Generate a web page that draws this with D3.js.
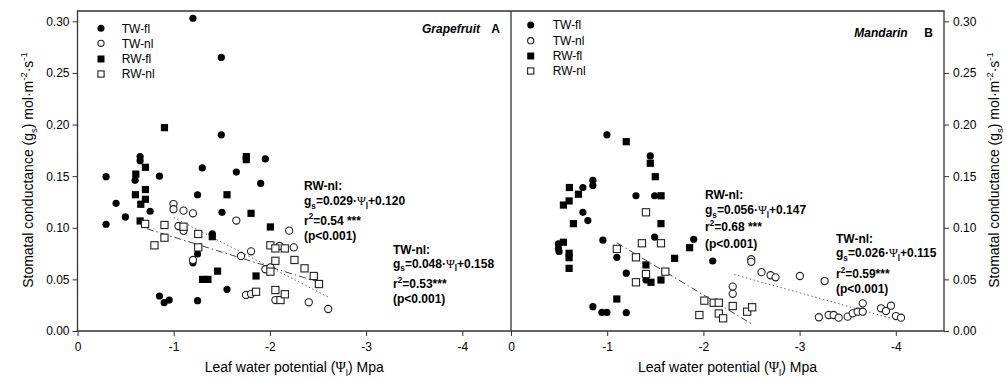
<!DOCTYPE html>
<html><head><meta charset="utf-8">
<script src="https://cdn.jsdelivr.net/npm/d3@7"></script>
<style>
body{margin:0;background:#fff}
text{font-family:Arial,"Liberation Sans",sans-serif;fill:#000}
</style>
</head><body>
<svg id="c" width="1007" height="379"></svg>
<script>
// ---------------- data ----------------
const xTicks = [0, -1, -2, -3, -4];
const yTicks = [0, 0.05, 0.10, 0.15, 0.20, 0.25, 0.30];
const seriesNames = ["TW-fl", "TW-nl", "RW-fl", "RW-nl"];

// Grapefruit (panel A): [leaf water potential, stomatal conductance]
const grapeTWfl = [[-1.20,0.303],[-1.495,0.265],[-1.495,0.190],[-0.651,0.169],[-0.651,0.165],[-0.297,0.1495],[-0.599,0.146],[-0.852,0.150],[-1.297,0.158],[-1.651,0.154],[-1.953,0.1667],[-1.904,0.143],[-1.248,0.132],[-0.297,0.1034],[-0.401,0.1237],[-0.498,0.1105],[-0.755,0.116],[-0.852,0.0339],[-0.901,0.0274],[-0.953,0.030],[-1.248,0.0746],[-1.2,0.066],[-1.248,0.0294],[-1.401,0.094],[-1.502,0.115],[-1.554,0.0404]];
const grapeTWnl = [[-0.998,0.123],[-0.998,0.118],[-1.102,0.1166],[-1.2,0.114],[-1.05,0.1017],[-1.102,0.097],[-1.2,0.0688],[-1.651,0.107],[-1.7,0.0727],[-1.804,0.0772],[-1.752,0.0349],[-1.804,0.0358],[-1.953,0.0598],[-2.005,0.0617],[-2.2,0.0972],[-2.1,0.0824],[-2.248,0.081],[-2.057,0.030],[-2.404,0.0278],[-2.606,0.0213]];
const grapeRWfl = [[-0.904,0.197],[-0.606,0.152],[-0.706,0.1586],[-1.755,0.169],[-1.755,0.166],[-1.554,0.132],[-0.602,0.132],[-0.706,0.137],[-0.658,0.1228],[-0.706,0.1276],[-0.651,0.1066],[-1.3,0.050],[-1.356,0.050],[-1.456,0.058],[-1.401,0.0914],[-1.804,0.114],[-1.856,0.0533],[-2.005,0.1008]];
const grapeRWnl = [[-0.703,0.1037],[-0.904,0.1027],[-0.904,0.0904],[-0.8,0.083],[-1.102,0.101],[-1.255,0.094],[-1.255,0.081],[-1.856,0.038],[-2.005,0.0575],[-2.005,0.083],[-2.057,0.080],[-2.155,0.080],[-2.057,0.068],[-2.255,0.0688],[-2.057,0.0397],[-2.11,0.030],[-2.155,0.0356],[-2.36,0.0607],[-2.456,0.0533],[-2.51,0.0455]];

// Mandarin (panel B)
const mandTWfl = [[-0.997,0.190],[-1.448,0.1696],[-0.851,0.146],[-0.851,0.141],[-0.747,0.139],[-1.299,0.131],[-1.493,0.131],[-0.747,0.115],[-0.799,0.107],[-0.493,0.0845],[-0.493,0.080],[-0.50,0.077],[-0.955,0.088],[-1.1,0.0714],[-1.493,0.091],[-1.403,0.0494],[-1.198,0.056],[-1.899,0.0889],[-2.097,0.0678],[-0.851,0.0236],[-0.945,0.018],[-0.997,0.018],[-1.198,0.0178]];
const mandTWnl = [[-2.305,0.043],[-2.305,0.036],[-2.497,0.0695],[-2.497,0.067],[-2.604,0.057],[-2.698,0.054],[-2.75,0.052],[-3.003,0.0533],[-3.26,0.0484],[-3.2,0.0133],[-3.302,0.0155],[-3.354,0.0155],[-3.406,0.0129],[-3.5,0.0139],[-3.552,0.0171],[-3.604,0.0187],[-3.656,0.0187],[-3.656,0.0268],[-3.846,0.022],[-3.898,0.0194],[-3.95,0.0245],[-4.002,0.0145],[-4.054,0.0129]];
const mandRWfl = [[-1.198,0.1834],[-1.448,0.1625],[-1.5,0.1495],[-0.607,0.139],[-0.701,0.1325],[-1.56,0.131],[-0.545,0.122],[-0.604,0.126],[-0.649,0.104],[-1.559,0.104],[-0.545,0.086],[-0.604,0.0753],[-0.604,0.071],[-0.604,0.0607],[-1.403,0.064],[-1.455,0.0472],[-1.559,0.0494],[-1.701,0.0704],[-1.857,0.0807],[-1.1,0.031]];
const mandRWnl = [[-1.403,0.115],[-1.1,0.0795],[-1.361,0.085],[-1.559,0.085],[-1.299,0.0714],[-1.403,0.0552],[-1.299,0.0472],[-1.604,0.0575],[-1.958,0.0155],[-2.01,0.0294],[-2.107,0.0274],[-2.16,0.0274],[-2.16,0.017],[-2.205,0.0123],[-2.305,0.0242],[-2.455,0.0187],[-2.507,0.023]];

// regression fits: [slope, intercept, psi start, psi end]
const grapeRWfit = [0.029, 0.120, -0.72, -2.52];
const grapeTWfit = [0.048, 0.158, -1.00, -2.62];
const mandRWfit  = [0.056, 0.147, -1.10, -2.51];
const mandTWfit  = [0.026, 0.115, -2.32, -3.96];

// fit annotations: [label, slope text, intercept text, r2 text]
const grapeRWnote = ["RW-nl:", "0.029", "0.120", "0.54 ***"];
const grapeTWnote = ["TW-nl:", "0.048", "0.158", "0.53***"];
const mandRWnote  = ["RW-nl:", "0.056", "0.147", "0.68 ***"];
const mandTWnote  = ["TW-nl:", "0.026", "0.115", "0.59***"];

// ---------------- drawing ----------------
const svg = d3.select("#c");
svg.append("rect").attr("width",1007).attr("height",379).attr("fill","#fff");
const AX = "#333";
const y = d3.scaleLinear().domain([0, 0.31]).range([331, 11]);

function rich(sel, parts, size){
  let shift = 0;
  parts.forEach(([t,k]) => {
    const ts = sel.append("tspan").text(t);
    const target = k==="sub" ? 0.3*size : k==="sup" ? -0.42*size : 0;
    ts.attr("dy", target - shift); shift = target;
    if (k==="sub"||k==="sup") ts.attr("font-size", size*0.68);
    if (k==="psi") ts.attr("font-family","'Liberation Serif','DejaVu Serif',serif").attr("font-weight","normal");
  });
}

function marker(g, i, cx, cy, r){
  const filled = (i===0 || i===2);
  if (i<2){
    g.append("circle").attr("cx",cx).attr("cy",cy).attr("r",r)
      .attr("fill", filled?"#000":"#fff").attr("stroke", filled?"none":"#222").attr("stroke-width",1.1);
  } else {
    const s = r*2;
    g.append("rect").attr("x",cx-s/2).attr("y",cy-s/2).attr("width",s).attr("height",s)
      .attr("fill", filled?"#000":"#fff").attr("stroke", filled?"none":"#222").attr("stroke-width",1.1);
  }
}

const panels = [
  {x0:77.5, x1:511, data:[grapeTWfl,grapeTWnl,grapeRWfl,grapeRWnl], rw:grapeRWfit, tw:grapeTWfit,
   rwNote:grapeRWnote, twNote:grapeTWnote, rwPos:[304,[189.5,205,224.5,239.5]], twPos:[393,[253.6,267.6,287.6,302.6]],
   name:"Grapefruit", letter:"A", titleX:[480,500], titleY:32.6, leg:[101,121.7,[28.3,43.3,59,74]], leftAxis:true},
  {x0:511, x1:944, data:[mandTWfl,mandTWnl,mandRWfl,mandRWnl], rw:mandRWfit, tw:mandTWfit,
   rwNote:mandRWnote, twNote:mandTWnote, rwPos:[705,[199.3,214.3,231,247.6]], twPos:[836,[242.6,257,277.6,292.6]],
   name:"Mandarin", letter:"B", titleX:[907.7,933], titleY:36.6, leg:[530.7,552.7,[25,40.7,56,71]], leftAxis:false}
];

panels.forEach(p => {
  const x = d3.scaleLinear().domain([0,-4.5]).range([p.x0, p.x0 + 4.5*96.2]);
  const g = svg.append("g");

  // x axis
  const xa = g.append("g").attr("transform","translate(0,331)")
    .call(d3.axisBottom(x).tickValues(xTicks).tickSize(5).tickSizeOuter(0).tickPadding(6).tickFormat(d => String(d)));
  xa.select(".domain").remove();
  xa.selectAll("line").attr("stroke",AX);
  xa.selectAll("text").attr("font-size",12).attr("font-family","Arial,'Liberation Sans',sans-serif");

  // y axis
  if (p.leftAxis){
    const ya = g.append("g").attr("transform",`translate(${p.x0},0)`)
      .call(d3.axisLeft(y).tickValues(yTicks).tickSize(5).tickSizeOuter(0).tickPadding(3).tickFormat(d3.format(".2f")));
    ya.select(".domain").remove();
    ya.selectAll("line").attr("stroke",AX);
    ya.selectAll("text").attr("font-size",12).attr("font-family","Arial,'Liberation Sans',sans-serif");
  } else {
    const ya = g.append("g").attr("transform",`translate(${p.x1},0)`)
      .call(d3.axisRight(y).tickValues(yTicks).tickSize(5).tickSizeOuter(0).tickPadding(4).tickFormat(d3.format(".2f")));
    ya.select(".domain").remove();
    ya.selectAll("line").attr("stroke",AX);
    ya.selectAll("text").attr("font-size",12).attr("font-family","Arial,'Liberation Sans',sans-serif");
  }

  // fit lines
  const line = d3.line().x(d=>x(d[0])).y(d=>y(d[1]));
  const fitPts = f => [[f[2], f[0]*f[2]+f[1]], [f[3], f[0]*f[3]+f[1]]];
  g.append("path").attr("d", line(fitPts(p.rw))).attr("stroke","#444").attr("stroke-width",1)
    .attr("stroke-dasharray","7,3,1.5,3").attr("fill","none");
  g.append("path").attr("d", line(fitPts(p.tw))).attr("stroke","#666").attr("stroke-width",1)
    .attr("stroke-dasharray","1.5,2.5").attr("fill","none");

  // points
  p.data.forEach((ser,i) => {
    const sg = g.append("g");
    ser.forEach(d => marker(sg, i, x(d[0]), y(d[1]), 3.6));
  });

  // legend
  seriesNames.forEach((n,i) => {
    marker(g, i, p.leg[0], p.leg[2][i], i===1||i===3 ? 3.1 : 3.5);
    g.append("text").attr("x",p.leg[1]).attr("y",p.leg[2][i]+4.3).attr("font-size",12).text(n);
  });

  // title
  g.append("text").attr("x",p.titleX[0]).attr("y",p.titleY).attr("text-anchor","end")
    .attr("font-size",12).attr("font-weight","bold").attr("font-style","italic").text(p.name);
  g.append("text").attr("x",p.titleX[1]).attr("y",p.titleY).attr("text-anchor","end")
    .attr("font-size",12).attr("font-weight","bold").text(p.letter);

  // notes
  [[p.rwNote,p.rwPos],[p.twNote,p.twPos]].forEach(([nt,pos]) => {
    const mk = (yy) => g.append("text").attr("x",pos[0]).attr("y",yy).attr("font-size",12).attr("font-weight","bold");
    mk(pos[1][0]).text(nt[0]);
    rich(mk(pos[1][1]), [["g",""],["s","sub"],["="+nt[1]+"·",""],["Ψ","psi"],["l","sub"],["+"+nt[2],""]], 12);
    rich(mk(pos[1][2]), [["r",""],["2","sup"],["="+nt[3],""]], 12);
    mk(pos[1][3]).text("(p<0.001)");
  });

  // x axis title
  const xt = g.append("text").attr("x",(p.x0+p.x1)/2).attr("y",372).attr("text-anchor","middle").attr("font-size",14);
  rich(xt, [["Leaf water potential (",""],["Ψ","psi"],["l","sub"],[") Mpa",""]], 14);
});

// frame
const fr = svg.append("g").attr("stroke",AX).attr("stroke-width",1.3).attr("fill","none");
fr.append("path").attr("d","M77.5,331H944V11H77.5Z");
fr.append("path").attr("d","M511,11V331");

// y axis titles
function yTitle(xx){
  const t = svg.append("text").attr("transform",`translate(${xx},170) rotate(-90)`)
    .attr("text-anchor","middle").attr("font-size",14);
  rich(t, [["Stomatal conductance (g",""],["s","sub"],[") mol·m",""],["-2","sup"],["·s",""],["-1","sup"]], 14);
}
yTitle(33);
yTitle(999);
</script>
</body></html>
